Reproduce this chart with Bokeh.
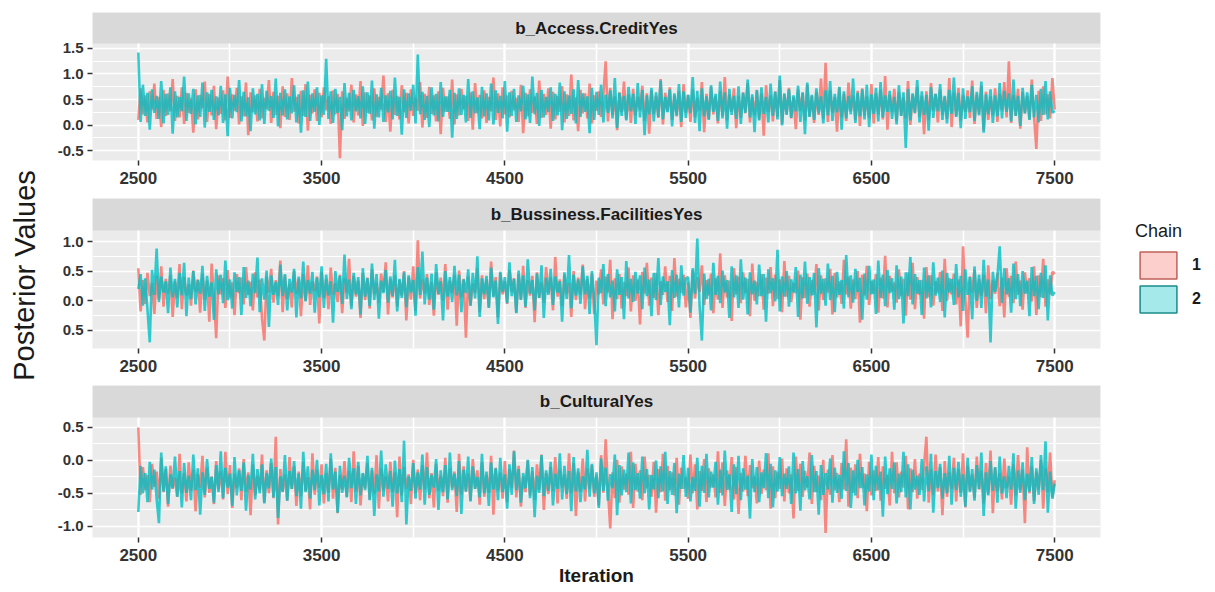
from bokeh.plotting import figure
from bokeh.layouts import column, row
from bokeh.models import FixedTicker, PrintfTickFormatter, Legend, LegendItem, Range1d
from bokeh.core.properties import value
from bokeh.embed import file_html
from bokeh.resources import INLINE

# ---------------- data ----------------
ITER_START = 2500
ITER_STEP = 12.5        # thinned trace: one value every 12.5 iterations

panel_titles = ["b_Access.CreditYes", "b_Bussiness.FacilitiesYes", "b_CulturalYes"]
chain_names = ["1", "2"]
x_ticks = [2500, 3500, 4500, 5500, 6500, 7500]
x_minor = [3000, 4000, 5000, 6000, 7000]

y_ticks_1 = [-0.5, 0.0, 0.5, 1.0, 1.5]
y_labels_1 = ["-0.5", "0.0", "0.5", "1.0", "1.5"]
y_ticks_2 = [-0.5, 0.0, 0.5, 1.0]
y_labels_2 = ["0.5", "0.0", "0.5", "1.0"]      # printed this way in the original
y_ticks_3 = [-1.0, -0.5, 0.0, 0.5]
y_labels_3 = ["-1.0", "-0.5", "0.0", "0.5"]

access_chain1 = [
    0.10, 0.72, 0.21, 0.58, 0.05, 0.66, 0.30, 0.81, 0.12, 0.55, -0.04, 0.69, 0.18, 0.62, 0.27, 0.90, 0.08, 0.57, 0.15, 0.74,
    0.02, 0.63, 0.24, 0.52, -0.15, 0.70, 0.11, 0.59, 0.33, 0.85, 0.06, 0.61, 0.19, 0.77, -0.08, 0.54, 0.22, 0.68, 0.09, 0.95,
    0.14, 0.60, 0.28, 0.73, 0.01, 0.56, 0.17, 0.83, -0.20, 0.64, 0.25, 0.58, 0.07, 0.71, 0.13, 0.53, 0.31, 0.88, 0.04, 0.65,
    0.20, 0.57, -0.06, 0.76, 0.16, 0.62, 0.10, 0.92, 0.26, 0.55, 0.03, 0.67, 0.18, 0.80, -0.11, 0.59, 0.23, 0.70, 0.08, 0.63,
    0.15, 0.74, 0.29, 0.56, 0.02, 0.68, 0.21, 0.61, -0.65, 0.66, 0.12, 0.53, 0.27, 0.79, 0.05, 0.60, 0.19, 0.86, -0.02, 0.64,
    0.24, 0.58, 0.09, 0.72, 0.16, 0.55, 0.30, 0.97, 0.06, 0.62, -0.13, 0.69, 0.20, 0.57, 0.11, 0.78, 0.25, 0.63, 0.03, 0.70,
    0.18, 0.54, 0.28, 0.84, -0.05, 0.61, 0.14, 0.75, 0.22, 0.58, 0.07, 0.66, -0.18, 0.73, 0.26, 0.56, 0.12, 0.89, 0.01, 0.60,
    0.19, 0.71, 0.31, 0.57, 0.08, 0.64, -0.09, 0.82, 0.23, 0.59, 0.13, 0.68, 0.04, 0.55, 0.27, 0.93, 0.10, 0.62, -0.03, 0.74,
    0.21, 0.58, 0.15, 0.67, 0.29, 0.53, 0.06, 0.79, -0.16, 0.63, 0.17, 0.70, 0.24, 0.56, 0.02, 0.87, 0.14, 0.61, 0.20, 0.72,
    -0.07, 0.65, 0.11, 0.57, 0.26, 0.76, 0.05, 0.60, 0.18, 0.99, 0.09, 0.54, -0.12, 0.69, 0.23, 0.62, 0.13, 0.81, 0.03, 0.58,
    0.28, 0.66, 0.16, 0.59, 1.25, 0.07, 0.73, 0.20, 0.56, -0.10, 0.64, 0.25, 0.85, 0.11, 0.60, 0.04, 0.71, 0.19, 0.55, 0.30,
    0.77, 0.08, 0.62, -0.17, 0.68, 0.22, 0.57, 0.14, 0.90, 0.01, 0.63, 0.27, 0.74, 0.10, 0.58, 0.17, 0.66, -0.04, 0.80, 0.24,
    0.59, 0.06, 0.70, 0.15, 0.53, 0.29, 0.84, -0.14, 0.61, 0.12, 0.75, 0.21, 0.56, 0.03, 0.67, 0.18, 0.94, 0.09, 0.60, 0.26,
    0.72, -0.06, 0.57, 0.14, 0.64, 0.23, 0.82, 0.05, 0.55, 0.19, 0.69, 0.11, 0.62, -0.21, 0.78, 0.25, 0.58, 0.07, 0.66, 0.16,
    0.88, 0.02, 0.60, 0.22, 0.73, 0.13, 0.54, -0.08, 0.70, 0.28, 0.63, 0.09, 0.79, 0.17, 0.57, 0.04, 0.65, 0.20, 0.91, 0.12,
    1.22, 0.06, 0.68, 0.24, 0.55, -0.13, 0.74, 0.15, 0.61, 0.08, 0.83, 0.27, 0.58, 0.10, 0.67, -0.02, 0.72, 0.19, 0.56, 0.14,
    0.80, 0.03, 0.62, 0.21, 0.69, 0.11, 0.96, -0.09, 0.59, 0.25, 0.71, 0.07, 0.64, 0.18, 0.54, 0.13, 0.86, 0.00, 0.60, 0.23,
    0.75, 0.16, 0.57, -0.18, 0.66, 0.09, 0.82, 0.28, 0.61, 0.05, 0.70, 0.20, 0.55, 0.12, 0.92, -0.04, 0.63, 0.17, 0.73, 0.08,
    0.58, 0.26, 0.68, 0.14, 0.87, 0.02, 0.60, 0.22, 0.77, -0.11, 0.65, 0.10, 0.56, 0.19, 0.72, 0.06, 0.62, 0.29, 0.84, 0.15,
    1.25, 0.04, 0.59, 0.18, 0.71, -0.07, 0.64, 0.23, 0.57, 0.11, 0.89, 0.16, -0.47, 0.67, 0.08, 0.76, 0.21, 0.60, 0.13, 0.92,
    0.30,
]
access_chain2 = [
    1.42, 0.06, 0.79, 0.18, 0.63, -0.09, 0.70, 0.24, 0.57, 0.12, 0.86, 0.03, 0.61, 0.20, 0.74, -0.17, 0.66, 0.15, 0.55, 0.27,
    0.95, 0.08, 0.62, 0.22, 0.71, 0.01, 0.58, 0.16, 0.83, -0.05, 0.64, 0.26, 0.69, 0.10, 0.56, 0.19, 0.77, 0.04, 0.60, -0.22,
    0.73, 0.13, 0.59, 0.25, 0.88, 0.07, 0.65, 0.17, 0.54, -0.12, 0.72, 0.21, 0.61, 0.09, 0.80, 0.02, 0.67, 0.28, 0.57, 0.14,
    0.91, -0.03, 0.63, 0.19, 0.70, 0.11, 0.56, 0.23, 0.78, 0.05, 0.60, -0.15, 0.68, 0.16, 0.85, 0.08, 0.62, 0.26, 0.74, 0.00,
    0.58, 0.20, 1.30, 0.12, 0.66, 0.04, 0.71, 0.24, 0.55, -0.10, 0.82, 0.17, 0.63, 0.09, 0.69, 0.27, 0.57, 0.13, 0.76, 0.02,
    0.64, 0.22, 0.87, -0.07, 0.60, 0.15, 0.73, 0.06, 0.58, 0.25, 0.67, 0.11, 0.93, 0.18, 0.55, -0.19, 0.70, 0.14, 0.62, 0.28,
    0.79, 0.03, 1.38, 0.21, 0.65, 0.10, 0.57, -0.04, 0.74, 0.19, 0.61, 0.07, 0.84, 0.16, 0.56, 0.26, 0.69, -0.25, 0.63, 0.12,
    0.72, 0.20, 0.59, 0.05, 0.90, 0.14, 0.66, 0.23, 0.54, -0.08, 0.75, 0.17, 0.62, 0.09, 0.81, 0.01, 0.68, 0.24, 0.57, 0.13,
    0.86, -0.13, 0.64, 0.18, 0.71, 0.06, 0.58, 0.27, 0.77, 0.11, 0.60, 0.04, 0.95, 0.21, 0.63, -0.02, 0.69, 0.15, 0.55, 0.25,
    0.74, 0.08, 0.61, 0.19, 0.83, -0.10, 0.66, 0.12, 0.58, 0.22, 0.70, 0.03, 0.88, 0.16, 0.62, 0.26, 0.56, -0.16, 0.73, 0.10,
    0.65, 0.20, 0.79, 0.05, 0.59, 0.24, 0.68, 0.13, 0.92, -0.06, 0.63, 0.18, 0.57, 0.09, 0.75, 0.27, 0.61, 0.02, 0.82, 0.15,
    0.69, -0.20, 0.58, 0.21, 0.73, 0.07, 0.64, 0.16, 0.87, 0.11, 0.55, 0.25, 0.70, -0.03, 0.62, 0.19, 0.80, 0.06, 0.66, 0.14,
    0.59, 0.23, 0.94, 0.04, 0.67, -0.12, 0.72, 0.17, 0.56, 0.10, 0.78, 0.26, 0.61, 0.08, 0.85, 0.13, 0.64, -0.07, 0.71, 0.20,
    0.57, 0.12, 0.76, 0.02, 0.63, 0.24, 0.89, 0.15, 0.60, -0.14, 0.68, 0.09, 0.74, 0.22, 0.55, 0.05, 0.81, 0.18, 0.65, 0.11,
    0.97, -0.01, 0.62, 0.20, 0.70, 0.14, 0.58, 0.27, 0.77, 0.06, 0.64, -0.18, 0.83, 0.16, 0.59, 0.10, 0.72, 0.23, 0.56, 0.03,
    0.68, 0.19, 0.86, 0.08, 0.61, 0.25, 0.75, -0.09, 0.66, 0.13, 0.57, 0.21, 0.91, 0.04, 0.63, 0.17, 0.70, 0.11, 0.79, -0.04,
    0.60, 0.22, 0.73, 0.07, 0.84, 0.15, 0.58, 0.26, 0.67, 0.12, 0.55, 0.01, 0.78, 0.18, 0.64, -0.45, 0.71, 0.09, 0.62, 0.24,
    0.88, 0.05, 0.66, 0.20, 0.59, -0.11, 0.74, 0.14, 0.61, 0.27, 0.80, 0.10, 0.57, 0.03, 0.69, 0.22, 0.93, 0.16, 0.63, -0.06,
    0.72, 0.12, 0.56, 0.25, 0.76, 0.08, 0.65, 0.19, 0.85, -0.15, 0.60, 0.21, 0.70, 0.04, 0.58, 0.17, 0.82, 0.13, 0.67, 0.26,
    0.62, 0.07, 0.89, 0.18, 0.57, -0.02, 0.73, 0.23, 0.64, 0.10, 0.79, 0.15, 0.59, 0.05, 0.71, 0.20, 0.86, 0.11, 0.66, 0.24,
    0.28,
]

business_chain1 = [
    0.55, -0.18, 0.35, -0.05, 0.47, 0.08, 0.30, -0.22, 0.42, 0.02, 0.58, -0.10, 0.37, 0.12, 0.44, -0.27, 0.33, 0.05, 0.62, -0.14,
    0.40, 0.09, 0.28, -0.08, 0.51, 0.15, 0.36, -0.20, 0.46, 0.01, 0.34, -0.35, 0.63, 0.07, -0.63, 0.43, 0.11, 0.38, -0.12, 0.52,
    0.04, 0.31, -0.24, 0.45, 0.13, 0.39, -0.06, 0.57, 0.10, 0.32, -0.16, 0.48, 0.06, 0.36, -0.30, -0.67, 0.41, 0.14, 0.54, -0.03,
    0.35, 0.08, 0.68, -0.19, 0.43, 0.03, 0.29, -0.11, 0.50, 0.12, 0.37, -0.26, 0.45, 0.00, 0.60, -0.07, 0.33, 0.16, 0.41, -0.38,
    0.49, 0.05, 0.36, -0.14, 0.56, 0.10, 0.30, -0.02, 0.44, -0.21, 0.38, 0.13, 0.71, -0.09, 0.42, 0.07, 0.34, -0.29, 0.47, 0.01,
    0.39, -0.13, 0.53, 0.11, 0.31, -0.04, 0.46, 0.15, 0.65, -0.23, 0.37, 0.06, 0.43, -0.10, 0.35, 0.09, 0.50, -0.33, 0.40, 0.02,
    0.58, -0.17, 1.02, 0.04, 0.36, 0.12, 0.45, -0.07, 0.32, -0.25, 0.48, 0.10, 0.39, 0.00, 0.62, -0.15, 0.34, 0.14, 0.44, -0.42,
    0.51, 0.06, 0.37, -0.62, 0.41, -0.08, 0.29, 0.13, 0.55, -0.19, 0.43, 0.03, 0.36, -0.11, 0.66, 0.08, 0.40, -0.28, 0.47, 0.11,
    0.33, -0.05, 0.52, 0.15, 0.38, -0.20, 0.45, 0.02, 0.59, -0.12, 0.35, 0.09, 0.42, -0.36, 0.48, 0.05, 0.31, -0.03, 0.57, 0.13,
    0.40, -0.16, 0.74, 0.07, 0.36, -0.09, 0.44, 0.12, 0.30, -0.27, 0.50, 0.01, 0.39, 0.10, 0.61, -0.14, 0.37, 0.04, 0.46, -0.22,
    0.34, 0.11, 0.53, -0.06, 0.41, 0.14, 0.69, -0.31, 0.38, 0.03, 0.45, -0.13, 0.32, 0.08, 0.56, -0.18, 0.43, 0.00, 0.36, -0.40,
    0.49, 0.12, 0.64, -0.08, 0.39, 0.05, 0.47, -0.24, 0.33, 0.10, 0.58, -0.02, 0.42, -0.17, 0.72, 0.07, 0.37, 0.13, 0.44, -0.11,
    0.31, -0.29, 0.52, 0.04, 0.40, 0.15, 0.60, -0.07, 0.35, 0.09, 0.46, -0.21, 0.38, 0.02, 0.80, -0.12, 0.43, 0.06, 0.34, -0.34,
    0.55, 0.11, 0.41, -0.04, 0.48, 0.14, 0.37, -0.26, 0.63, 0.00, 0.32, 0.08, 0.45, -0.15, 0.39, 0.12, 0.57, -0.09, 0.44, 0.03,
    0.36, -0.19, 0.67, 0.07, 0.42, -0.02, 0.30, 0.13, 0.51, -0.32, 0.40, 0.05, 0.46, -0.10, 0.35, 0.10, 0.62, -0.16, 0.43, 0.01,
    0.38, 0.14, 0.54, -0.23, 0.47, 0.06, 0.33, -0.05, 0.69, 0.11, 0.41, -0.13, 0.36, 0.03, 0.50, -0.37, 0.44, 0.09, 0.59, -0.07,
    0.34, 0.12, 0.45, -0.20, 0.39, 0.04, 0.76, -0.11, 0.42, 0.15, 0.31, -0.03, 0.53, 0.08, 0.37, -0.25, 0.48, 0.02, 0.64, -0.14,
    0.40, 0.10, 0.35, -0.30, 0.57, 0.06, 0.43, -0.08, 0.33, 0.13, 0.49, -0.17, 0.71, 0.00, 0.38, 0.11, 0.46, -0.06, 0.36, -0.43,
    0.92, 0.05, -0.62, 0.41, 0.14, 0.52, -0.12, 0.37, 0.08, 0.44, -0.21, 0.60, 0.03, 0.35, 0.12, 0.47, -0.09, 0.39, -0.28, 0.55,
    0.07, 0.42, -0.04, 0.66, 0.10, 0.34, -0.15, 0.48, 0.13, 0.38, -0.01, 0.58, -0.24, 0.43, 0.06, 0.71, -0.10, 0.36, 0.11, 0.49,
    0.45,
]
business_chain2 = [
    0.20, 0.45, -0.08, 0.38, -0.15, -0.70, 0.52, 0.10, 0.88, -0.02, 0.41, 0.14, 0.33, -0.21, 0.56, 0.06, 0.37, -0.11, 0.47, 0.09,
    0.64, -0.26, 0.39, 0.03, 0.50, -0.06, 0.35, 0.12, 0.59, -0.17, 0.42, 0.07, 0.31, -0.32, 0.53, 0.11, 0.44, -0.04, 0.68, 0.01,
    0.36, -0.13, 0.48, 0.15, 0.40, -0.24, 0.57, 0.05, 0.34, -0.09, 0.46, 0.13, 0.73, -0.19, 0.38, 0.02, 0.51, -0.44, 0.43, 0.10,
    0.32, -0.07, 0.61, 0.08, 0.45, -0.16, 0.37, 0.14, 0.54, -0.28, 0.41, 0.04, 0.66, -0.01, 0.35, 0.12, 0.49, -0.20, 0.39, 0.06,
    0.58, -0.12, 0.44, 0.09, 0.33, -0.37, 0.50, 0.15, 0.42, -0.05, 0.78, 0.03, 0.36, -0.14, 0.47, 0.11, 0.40, -0.23, 0.55, 0.07,
    0.38, -0.09, 0.63, 0.01, 0.45, -0.30, 0.34, 0.13, 0.52, -0.03, 0.41, 0.08, 0.69, -0.18, 0.37, 0.05, 0.48, -0.11, 0.43, 0.14,
    0.35, -0.25, 0.57, 0.10, 0.83, -0.06, 0.39, 0.02, 0.46, -0.15, 0.62, 0.12, 0.33, -0.33, 0.50, 0.07, 0.40, -0.02, 0.59, 0.09,
    0.44, -0.19, 0.36, 0.13, 0.53, -0.08, 0.47, 0.04, 0.75, -0.27, 0.38, 0.11, 0.42, -0.12, 0.56, 0.06, 0.34, -0.39, 0.49, 0.15,
    0.40, -0.04, 0.65, 0.08, 0.37, -0.21, 0.51, 0.01, 0.43, -0.10, 0.70, 0.12, 0.35, -0.16, 0.46, 0.05, 0.60, -0.29, 0.39, 0.10,
    0.54, -0.07, 0.41, 0.14, 0.33, -0.35, 0.48, 0.03, 0.77, -0.13, 0.44, 0.09, 0.36, -0.05, 0.58, 0.11, 0.42, -0.22, 0.50, 0.02,
    -0.75, 0.39, 0.13, 0.62, -0.09, 0.45, 0.06, 0.34, -0.18, 0.53, 0.10, 0.40, -0.31, 0.67, 0.04, 0.37, -0.02, 0.49, 0.12, 0.43,
    -0.14, 0.56, 0.08, 0.36, -0.26, 0.47, 0.01, 0.72, -0.07, 0.41, 0.15, 0.33, -0.41, 0.52, 0.05, 0.44, -0.11, 0.60, 0.09, 0.38,
    0.40, -0.20, 0.55, 0.12, 1.05, -0.08, -0.67, 0.46, 0.03, 0.37, -0.16, 0.64, 0.10, 0.42, -0.04, 0.51, 0.14, 0.35, -0.29, 0.58,
    0.06, 0.43, -0.12, 0.70, 0.02, 0.39, -0.23, 0.48, 0.11, 0.34, -0.06, 0.61, 0.08, 0.45, -0.35, 0.53, 0.13, 0.38, -0.01, 0.86,
    -0.18, 0.41, 0.07, 0.50, -0.10, 0.36, 0.14, 0.57, -0.27, 0.44, 0.04, 0.66, -0.05, 0.40, 0.09, 0.47, -0.45, 0.55, 0.12, 0.37,
    -0.08, 0.63, 0.01, 0.42, -0.19, 0.49, 0.10, 0.35, -0.13, 0.77, 0.06, 0.43, -0.03, 0.54, 0.15, 0.39, -0.32, 0.46, 0.02, 0.59,
    0.11, 0.36, -0.22, 0.68, 0.05, 0.44, -0.09, 0.52, 0.13, 0.38, -0.15, 0.60, 0.03, 0.41, -0.38, 0.48, 0.08, 0.74, -0.06, 0.45,
    0.12, 0.35, -0.24, 0.56, 0.04, 0.43, -0.11, 0.65, 0.09, 0.39, -0.02, 0.51, -0.28, 0.47, 0.14, 0.37, -0.07, 0.62, 0.06, 0.42,
    -0.17, 0.53, 0.10, 0.40, -0.31, 0.58, 0.00, 0.44, -0.12, 0.69, 0.07, 0.36, -0.70, 0.49, 0.15, 0.41, 0.92, -0.04, 0.55, 0.11,
    0.38, -0.20, 0.63, 0.03, 0.45, -0.09, 0.50, 0.12, 0.34, -0.26, 0.57, 0.08, 0.42, -0.14, 0.47, 0.05, 0.60, -0.33, 0.43, 0.09,
    0.15,
]

cultural_chain1 = [
    0.50, -0.52, -0.10, -0.45, -0.22, -0.63, -0.05, -0.40, -0.17, -0.58, 0.04, -0.48, -0.13, -0.70, -0.08, -0.43, -0.26, -0.55, 0.10, -0.50,
    -0.19, -0.62, -0.03, -0.46, -0.14, -0.77, -0.21, -0.41, 0.07, -0.56, -0.11, -0.49, -0.24, -0.66, -0.01, -0.44, -0.16, -0.59, 0.13, -0.51,
    -0.07, -0.72, -0.20, -0.42, -0.12, -0.60, 0.02, -0.47, -0.18, -0.83, -0.06, -0.53, -0.23, -0.45, 0.09, -0.64, -0.15, -0.50, -0.04, -0.57,
    0.36, -0.97, -0.13, -0.48, -0.21, -0.61, 0.05, -0.43, -0.09, -0.69, -0.17, -0.54, -0.02, -0.46, -0.25, -0.74, 0.11, -0.52, -0.14, -0.41,
    -0.06, -0.65, -0.19, -0.49, 0.03, -0.58, -0.11, -0.80, -0.22, -0.44, -0.01, -0.55, -0.16, -0.63, 0.14, -0.47, -0.08, -0.68, -0.20, -0.42,
    -0.04, -0.59, -0.15, -0.51, 0.08, -0.73, -0.12, -0.45, -0.24, -0.62, -0.02, -0.48, -0.18, -0.86, 0.06, -0.53, -0.10, -0.43, -0.21, -0.66,
    0.01, -0.50, -0.14, -0.60, -0.07, -0.44, 0.12, -0.57, -0.19, -0.71, -0.05, -0.46, -0.23, -0.54, 0.04, -0.64, -0.12, -0.41, -0.17, -0.78,
    0.10, -0.52, -0.09, -0.47, -0.20, -0.61, 0.02, -0.43, -0.15, -0.67, -0.03, -0.55, -0.22, -0.49, 0.07, -0.82, -0.11, -0.45, -0.18, -0.58,
    -0.01, -0.63, -0.13, -0.42, 0.15, -0.56, -0.08, -0.70, -0.24, -0.48, 0.00, -0.53, -0.16, -0.60, -0.06, -0.44, 0.09, -0.75, -0.19, -0.51,
    -0.10, -0.46, 0.05, -0.65, -0.14, -0.41, -0.21, -0.58, 0.11, -0.50, -0.04, -0.84, -0.17, -0.47, 0.03, -0.62, -0.12, -0.43, -0.07, -0.55,
    -0.23, -0.68, 0.08, -0.49, 0.32, -0.45, -1.03, -0.18, -0.57, 0.01, -0.64, -0.09, -0.44, -0.20, -0.52, 0.13, -0.72, -0.05, -0.47, -0.15,
    -0.60, 0.06, -0.42, -0.22, -0.55, -0.02, -0.79, -0.13, -0.48, 0.10, -0.61, -0.08, -0.45, -0.18, -0.53, 0.04, -0.67, -0.11, -0.43, -0.25,
    -0.58, 0.09, -0.50, -0.06, -0.74, -0.16, -0.46, 0.02, -0.63, -0.12, -0.41, -0.21, -0.56, 0.14, -0.49, -0.03, -0.69, -0.15, -0.44, 0.05,
    -0.59, -0.10, -0.81, -0.19, -0.47, 0.07, -0.54, -0.07, -0.42, -0.24, -0.65, 0.00, -0.51, -0.14, -0.45, 0.11, -0.73, -0.09, -0.57, -0.17,
    -0.43, 0.03, -0.62, -0.12, -0.50, -0.21, -0.88, 0.06, -0.46, -0.05, -0.55, -0.16, -0.41, 0.12, -0.66, -0.08, -0.48, -0.23, -0.60, 0.01,
    -1.10, -0.14, -0.52, 0.08, -0.45, -0.19, -0.63, -0.04, -0.44, 0.32, -0.70, -0.11, -0.49, -0.06, -0.57, 0.10, -0.42, -0.20, -0.77, -0.02,
    -0.53, -0.15, -0.46, 0.05, -0.61, -0.09, -0.43, -0.22, -0.68, 0.13, -0.50, -0.03, -0.56, -0.17, -0.41, 0.07, -0.74, -0.12, -0.48, 0.02,
    -0.58, -0.20, -0.45, -0.07, 0.36, -0.64, -0.14, -0.52, 0.09, -0.47, -0.10, -0.83, -0.01, -0.55, -0.18, -0.43, 0.04, -0.62, -0.13, -0.49,
    0.11, -0.71, -0.08, -0.46, -0.21, -0.57, 0.06, -0.44, -0.16, -0.65, -0.04, -0.51, 0.15, -0.80, -0.11, -0.47, -0.19, -0.59, 0.03, -0.42,
    -0.24, -0.67, -0.06, -0.53, 0.08, -0.45, -0.14, -0.95, 0.20, -0.50, -0.09, -0.62, -0.17, -0.44, 0.01, -0.73, -0.12, -0.48, 0.12, -0.56,
    -0.30,
]
cultural_chain2 = [
    -0.78, -0.08, -0.50, -0.19, -0.63, -0.02, -0.44, -0.14, -0.58, -0.95, 0.12, -0.47, -0.09, -0.66, -0.21, -0.42, 0.06, -0.55, -0.16, -0.71,
    -0.04, -0.49, -0.23, -0.60, 0.09, -0.45, -0.12, -0.82, -0.18, -0.52, 0.02, -0.43, -0.25, -0.64, -0.07, -0.48, 0.14, -0.57, -0.11, -0.41,
    -0.20, -0.69, 0.05, -0.53, -0.15, -0.46, -0.03, -0.76, -0.22, -0.44, 0.10, -0.59, -0.13, -0.50, -0.06, -0.65, -0.19, -0.42, 0.03, -0.56,
    -0.10, -0.87, -0.24, -0.47, 0.08, -0.61, -0.16, -0.43, -0.01, -0.54, -0.20, -0.73, 0.13, -0.48, -0.09, -0.58, -0.14, -0.45, 0.01, -0.68,
    -0.22, -0.51, -0.05, -0.62, 0.11, -0.44, -0.17, -0.79, -0.08, -0.49, -0.23, -0.56, 0.04, -0.42, -0.12, -0.66, -0.02, -0.53, -0.19, -0.45,
    0.07, -0.60, -0.11, -0.84, -0.21, -0.47, 0.15, -0.55, -0.06, -0.43, -0.16, -0.70, 0.00, -0.50, -0.13, -0.63, 0.30, -0.97, -0.24, -0.46,
    -0.04, -0.58, -0.18, -0.44, 0.09, -0.67, -0.10, -0.52, -0.22, -0.41, 0.02, -0.75, -0.15, -0.48, -0.07, -0.59, 0.12, -0.45, -0.20, -0.54,
    -0.01, -0.81, -0.14, -0.47, 0.06, -0.62, -0.09, -0.43, -0.25, -0.56, 0.10, -0.50, -0.17, -0.69, -0.03, -0.44, -0.12, -0.60, 0.04, -0.48,
    -0.21, -0.73, -0.06, -0.52, 0.14, -0.45, -0.13, -0.64, -0.19, -0.42, 0.01, -0.57, -0.10, -0.86, -0.23, -0.49, 0.08, -0.54, -0.15, -0.46,
    -0.02, -0.68, -0.20, -0.43, 0.11, -0.59, -0.08, -0.51, -0.16, -0.77, 0.05, -0.47, -0.12, -0.63, -0.24, -0.44, 0.16, -0.55, -0.05, -0.50,
    -0.18, -0.72, 0.03, -0.46, -0.11, -0.61, -0.21, -0.42, 0.09, -0.83, -0.07, -0.53, -0.14, -0.48, 0.12, -0.65, -0.03, -0.45, -0.19, -0.58,
    0.06, -0.50, -0.13, -0.74, -0.22, -0.44, 0.00, -0.57, -0.09, -0.47, 0.13, -0.66, -0.16, -0.52, -0.04, -0.80, -0.20, -0.43, 0.08, -0.55,
    -0.11, -0.62, -0.25, -0.46, 0.04, -0.70, -0.08, -0.49, 0.10, -0.56, -0.17, -0.41, -0.02, -0.67, -0.14, -0.53, 0.15, -0.45, -0.21, -0.78,
    -0.06, -0.51, 0.07, -0.60, -0.12, -0.44, -0.23, -0.88, 0.02, -0.48, -0.10, -0.63, -0.18, -0.42, 0.11, -0.57, -0.05, -0.71, -0.15, -0.47,
    0.05, -0.54, -0.20, -0.43, -0.09, -0.66, 0.12, -0.50, -0.13, -0.76, -0.01, -0.45, -0.24, -0.59, 0.08, -0.48, -0.16, -0.82, -0.07, -0.52,
    -0.19, -0.44, 0.03, -0.64, -0.11, -0.49, -0.22, -0.58, 0.14, -0.46, -0.04, -0.72, -0.15, -0.53, 0.01, -0.42, -0.10, -0.68, -0.21, -0.47,
    0.09, -0.60, -0.08, -0.45, -0.17, -0.85, 0.06, -0.51, -0.12, -0.43, -0.03, -0.65, -0.20, -0.48, 0.13, -0.56, -0.06, -0.74, -0.14, -0.44,
    -0.23, -0.52, 0.02, -0.62, -0.09, -0.47, 0.10, -0.79, -0.16, -0.42, -0.05, -0.58, -0.19, -0.50, 0.07, -0.67, -0.11, -0.45, -0.02, -0.55,
    -0.21, -0.70, 0.04, -0.48, -0.13, -0.61, -0.07, -0.43, 0.12, -0.84, -0.18, -0.53, -0.01, -0.46, -0.10, -0.64, 0.06, -0.50, -0.24, -0.57,
    -0.08, -0.44, 0.11, -0.73, -0.15, -0.49, -0.03, -0.60, -0.20, -0.47, 0.05, -0.66, -0.12, -0.52, 0.08, -0.45, 0.29, -0.79, -0.17, -0.58,
    -0.35,
]

# ---------------- styling / layout ----------------
FONT = "Liberation Sans"
RED = "#F8766D"
TEAL = "#00BFC4"
PANEL_BG = "#EBEBEB"
STRIP_BG = "#D9D9D9"
TEXT = "#1A1A1A"
TICK_TEXT = "#333333"

X_LO, X_HI = 2250, 7750
TOTAL_H = 590
YLAB_W = 40
FRAME_W = 1008
LEFT_B, RIGHT_B = 52, 5
LEGEND_W = 105
NAN = float("nan")


def iterations(vals):
    return [ITER_START + ITER_STEP * k for k in range(len(vals))]


def make_panel(title, c1, c2, yticks, ylabels, y_lo, plot_top, frame_h, strip_px,
               b_top, b_bottom):
    unit = (plot_top - y_lo) / (frame_h - strip_px)
    y_hi = plot_top + strip_px * unit
    p = figure(width=LEFT_B + FRAME_W + RIGHT_B, height=b_top + frame_h + b_bottom,
               x_range=Range1d(X_LO, X_HI), y_range=Range1d(y_lo, y_hi),
               output_backend="svg", toolbar_location=None,
               min_border_left=LEFT_B, min_border_right=RIGHT_B,
               min_border_top=b_top, min_border_bottom=b_bottom)
    p.background_fill_color = PANEL_BG
    p.border_fill_color = "white"
    p.outline_line_color = None

    minors = [(a + b) / 2 for a, b in zip(yticks[:-1], yticks[1:])]
    p.xaxis.ticker = FixedTicker(ticks=x_ticks, minor_ticks=x_minor)
    p.xaxis.formatter = PrintfTickFormatter(format="%d")
    p.yaxis.ticker = FixedTicker(ticks=yticks, minor_ticks=minors)
    p.yaxis.formatter = PrintfTickFormatter(format="%.1f")
    p.yaxis.major_label_overrides = {t: l for t, l in zip(yticks, ylabels)}

    for ax in (p.xaxis, p.yaxis):
        ax.axis_line_color = None
        ax.major_tick_line_color = "#333333"
        ax.major_tick_line_width = 1.5
        ax.major_tick_in = 0
        ax.major_tick_out = 5
        ax.minor_tick_line_color = None
        ax.major_label_text_font = FONT
        ax.major_label_text_color = TICK_TEXT
        ax.major_label_text_font_style = "bold"
    p.xaxis.major_label_standoff = 6
    p.yaxis.major_label_standoff = 4
    p.xaxis.major_label_text_font_size = "17px"
    p.yaxis.major_label_text_font_size = "15px"

    p.xgrid.grid_line_color = "white"
    p.xgrid.grid_line_width = 2.4
    p.xgrid.minor_grid_line_color = "white"
    p.xgrid.minor_grid_line_width = 1.6
    p.ygrid.grid_line_color = "white"
    p.ygrid.grid_line_width = 1.7
    p.ygrid.minor_grid_line_color = "white"
    p.ygrid.minor_grid_line_width = 1.0

    p.line(iterations(c1), c1, line_color=RED, line_alpha=0.85, line_width=2.6)
    p.line(iterations(c2), c2, line_color=TEAL, line_alpha=0.8, line_width=2.6)

    # facet strip
    p.quad(left=[X_LO], right=[X_HI], bottom=[plot_top], top=[y_hi],
           fill_color=STRIP_BG, line_color=None)
    p.text(x=[(X_LO + X_HI) / 2], y=[(plot_top + y_hi) / 2], text=[title],
           text_align="center", text_baseline="middle",
           text_font=value(FONT), text_font_size="17px", text_font_style="bold",
           text_color=TEXT)
    return p


p1 = make_panel(panel_titles[0], access_chain1, access_chain2, y_ticks_1, y_labels_1,
                -0.696, 1.598, 148, 31, 12, 38)
p2 = make_panel(panel_titles[1], business_chain1, business_chain2, y_ticks_2, y_labels_2,
                -0.804, 1.186, 150, 32, 0, 37)
p3 = make_panel(panel_titles[2], cultural_chain1, cultural_chain2, y_ticks_3, y_labels_3,
                -1.167, 0.651, 152, 32, 0, 53)

p3.xaxis.axis_label = "Iteration"
p3.xaxis.axis_label_text_font = FONT
p3.xaxis.axis_label_text_font_size = "19px"
p3.xaxis.axis_label_text_font_style = "bold"
p3.xaxis.axis_label_text_color = TEXT
p3.xaxis.axis_label_standoff = 1

# y-axis title, in its own narrow strip spanning all panels
ylab = figure(width=YLAB_W, height=TOTAL_H, x_range=Range1d(0, YLAB_W),
              y_range=Range1d(0, TOTAL_H), output_backend="svg", toolbar_location=None,
              x_axis_location=None, y_axis_location=None,
              min_border_left=0, min_border_right=0, min_border_top=0, min_border_bottom=0)
ylab.outline_line_color = None
ylab.background_fill_color = "white"
ylab.grid.visible = False
ylab.text(x=[24], y=[TOTAL_H - 275], text=["Posterior Values"], angle=1.5707963,
          text_align="center", text_baseline="middle", text_font=value(FONT),
          text_font_size="29px", text_color=TEXT)

# legend, in its own narrow strip on the right (keys are placeholder glyphs)
leg = figure(width=LEGEND_W, height=TOTAL_H, x_range=Range1d(0, 1), y_range=Range1d(0, 1),
             output_backend="svg", toolbar_location=None,
             x_axis_location=None, y_axis_location=None,
             min_border_left=0, min_border_right=0, min_border_top=0, min_border_bottom=0)
leg.outline_line_color = None
leg.background_fill_color = "white"
leg.grid.visible = False
k1 = leg.quad(left=[NAN], right=[NAN], top=[NAN], bottom=[NAN], fill_color=RED,
              fill_alpha=0.35, line_color="#C0605A", line_width=1.5)
k2 = leg.quad(left=[NAN], right=[NAN], top=[NAN], bottom=[NAN], fill_color=TEAL,
              fill_alpha=0.35, line_color="#1A8A8A", line_width=1.5)
legend = Legend(items=[LegendItem(label=chain_names[0], renderers=[k1]),
                       LegendItem(label=chain_names[1], renderers=[k2])],
                title="Chain", location=(30, TOTAL_H - 316),
                title_text_font=FONT, title_text_font_size="18px",
                title_text_font_style="normal", title_text_color=TEXT, title_standoff=6,
                label_text_font=FONT, label_text_font_size="16px",
                label_text_font_style="bold", label_text_color=TEXT,
                glyph_width=46, glyph_height=34, label_standoff=11, spacing=0,
                padding=2, margin=0, background_fill_alpha=0, border_line_color=None)
leg.add_layout(legend)

layout = row(ylab, column(p1, p2, p3), leg)
open("out.html", "w").write(file_html(layout, INLINE))
